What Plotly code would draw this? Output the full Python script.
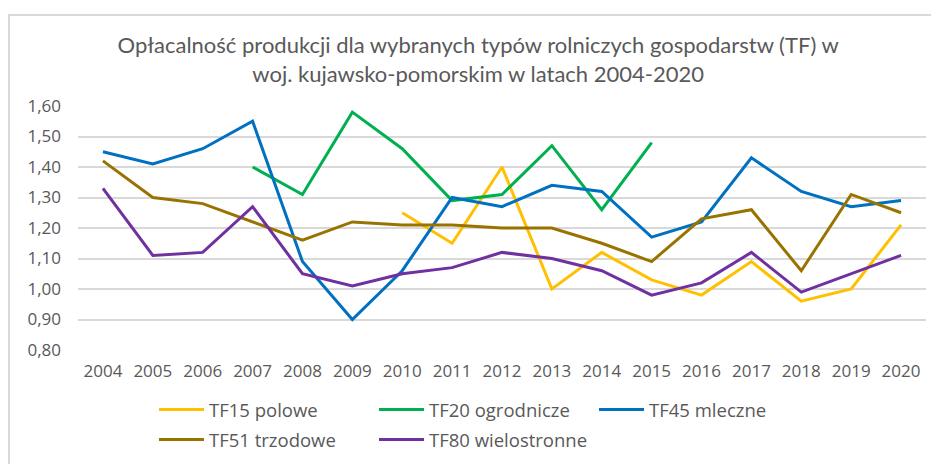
import plotly.graph_objects as go

years = [str(y) for y in range(2004, 2021)]

tf15_polowe = [None, None, None, None, None, None, 1.25, 1.15, 1.40, 1.00, 1.12, 1.03, 0.98, 1.09, 0.96, 1.00, 1.21]
tf20_ogrodnicze = [None, None, None, 1.40, 1.31, 1.58, 1.46, 1.29, 1.31, 1.47, 1.26, 1.48, None, None, None, None, None]
tf45_mleczne = [1.45, 1.41, 1.46, 1.55, 1.09, 0.90, 1.06, 1.30, 1.27, 1.34, 1.32, 1.17, 1.22, 1.43, 1.32, 1.27, 1.29]
tf51_trzodowe = [1.42, 1.30, 1.28, 1.22, 1.16, 1.22, 1.21, 1.21, 1.20, 1.20, 1.15, 1.09, 1.23, 1.26, 1.06, 1.31, 1.25]
tf80_wielostronne = [1.33, 1.11, 1.12, 1.27, 1.05, 1.01, 1.05, 1.07, 1.12, 1.10, 1.06, 0.98, 1.02, 1.12, 0.99, 1.05, 1.11]

series_names = ["TF15 polowe", "TF20 ogrodnicze", "TF45 mleczne", "TF51 trzodowe", "TF80 wielostronne"]
series_values = [tf15_polowe, tf20_ogrodnicze, tf45_mleczne, tf51_trzodowe, tf80_wielostronne]
series_colors = ["#FFC000", "#00B050", "#0070C0", "#997300", "#7030A0"]
series_legend = ["legend", "legend", "legend", "legend2", "legend2"]

title_text = "Opłacalność produkcji dla wybranych typów rolniczych gospodarstw (TF) w<br>woj. kujawsko-pomorskim w latach 2004-2020"

fig = go.Figure()
for name, vals, col, lg in zip(series_names, series_values, series_colors, series_legend):
    fig.add_trace(go.Scatter(
        x=years, y=vals, name=name, mode="lines",
        line=dict(color=col, width=3),
        connectgaps=False, legend=lg,
    ))

grey = "#595959"
W, H = 931, 456          # page has an 8px body margin
L, R, T, B = 70, 13, 98, 114
PW, PH = W - L - R, H - T - B

legend_common = dict(
    orientation="h", xanchor="left", yanchor="middle",
    font=dict(family="Open Sans", size=18.5, color=grey),
    itemwidth=45,
    entrywidth=160, entrywidthmode="pixels",
    bgcolor="rgba(0,0,0,0)", itemclick=False,
    traceorder="normal",
)

fig.update_layout(
    width=W, height=H,
    margin=dict(l=L, r=R, t=T, b=B, autoexpand=False),
    paper_bgcolor="white", plot_bgcolor="white",
    separators=", ",
    title=dict(
        text=title_text, x=0.505, xref="container", xanchor="center",
        y=1 - 45 / H, yref="container", yanchor="top",
        font=dict(family="Lato", size=22, color=grey),
    ),
    xaxis=dict(
        type="category", range=[-0.5, 16.5], showgrid=False, showline=False,
        ticks="", tickfont=dict(family="Open Sans", size=17, color=grey),
        zeroline=False, ticklabelstandoff=9,
    ),
    yaxis=dict(
        range=[0.8, 1.6], dtick=0.1, tick0=0.8, tickformat=".2f",
        showgrid=True, gridcolor="#d9d9d9", gridwidth=1.5,
        zeroline=False, showline=False, ticks="",
        tickfont=dict(family="Open Sans", size=17, color=grey),
        ticklabelstandoff=16,
    ),
    legend=dict(x=(146 - L) / PW, y=(H - B - 402) / PH, **legend_common),
    legend2=dict(x=(146 - L) / PW, y=(H - B - 432) / PH, **legend_common),
    shapes=[dict(
        type="rect", xref="paper", yref="paper",
        x0=(1 - L) / PW, x1=(W + 10 - L) / PW,
        y0=(H - B - (H + 10)) / PH, y1=(H - B - 7) / PH,
        line=dict(color="#d9d9d9", width=2), fillcolor="rgba(0,0,0,0)",
        layer="below",
    )],
)

fig.write_html("out.html")
